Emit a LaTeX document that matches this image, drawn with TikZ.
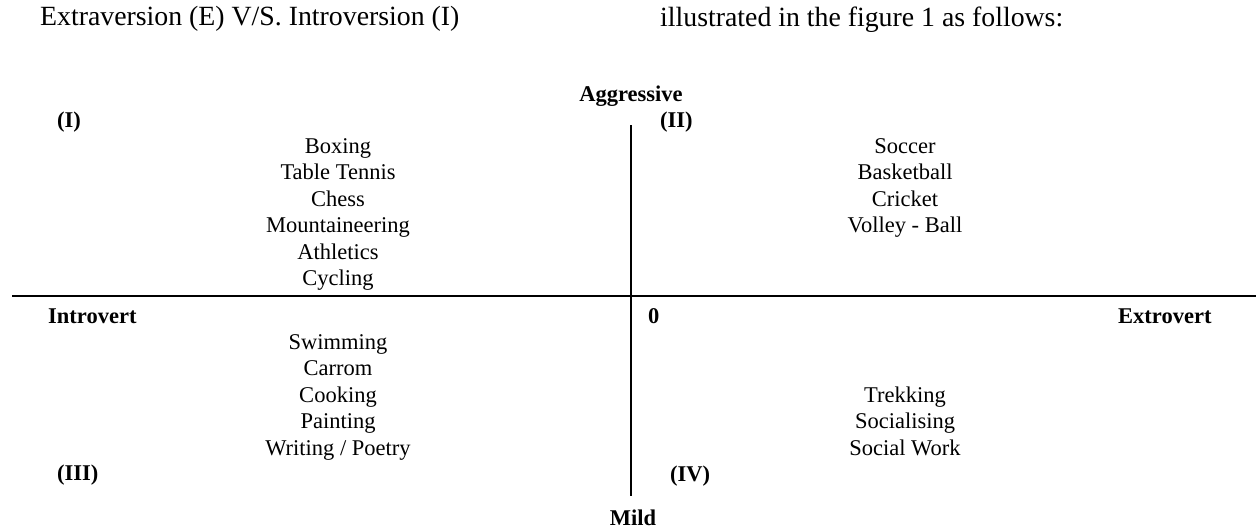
\documentclass[tikz,border=0pt]{standalone}
\usepackage{fontspec}
\setmainfont{Liberation Serif}
\begin{document}
\begin{tikzpicture}[x=1pt,y=-1pt,
  lbl/.style={inner sep=0pt,anchor=base,font=\fontsize{22.5}{27}\selectfont},
  lblw/.style={lbl,anchor=base west},
  bl/.style={inner sep=0pt,anchor=base,font=\fontsize{22.5}{27}\selectfont\bfseries},
  blw/.style={bl,anchor=base west},
  hdr/.style={inner sep=0pt,anchor=base west,font=\fontsize{27.8}{32}\selectfont},
  axis/.style={line width=1.8pt}]
\fill[white] (0,0) rectangle (1256,531);
\useasboundingbox (0,0) rectangle (1256,531);

% header text
\node[hdr] (h1) at (40,25) {Extraversion (E) V/S. Introversion (I)};
\node[hdr] (h2) at (660,26) {illustrated in the figure 1 as follows:};

% axes
\coordinate (hl) at (12,295.7);
\coordinate (hr) at (1256,295.7);
\coordinate (vt) at (631,125);
\coordinate (vb) at (631,496);
\draw[axis] (hl) -- (hr);
\draw[axis] (vt) -- (vb);

% axis labels
\node[bl] (aggr) at (631,101) {Aggressive};
\node[bl] (mild) at (633,525) {Mild};
\node[blw] (intro) at (48,323) {Introvert};
\node[blw] (extro) at (1118,323) {Extrovert};
\node[blw] (zero) at (648,323) {0};

% quadrant numbers
\node[blw] (q1) at (57,127) {(I)};
\node[blw] (q2) at (660,127) {(II)};
\node[blw] (q3) at (57,480) {(III)};
\node[blw] (q4) at (670,481) {(IV)};

% quadrant lists
\foreach \t [count=\i] in {Boxing,Table Tennis,Chess,Mountaineering,Athletics,Cycling}
  \node[lbl] (ul\i) at (338,{153+26.5*(\i-1)}) {\t};
\foreach \t [count=\i] in {Soccer,Basketball,Cricket,Volley - Ball}
  \node[lbl] (ur\i) at (905,{153+26.5*(\i-1)}) {\t};
\foreach \t [count=\i] in {Swimming,Carrom,Cooking,Painting,Writing / Poetry}
  \node[lbl] (ll\i) at (338,{349+26.5*(\i-1)}) {\t};
\foreach \t [count=\i] in {Trekking,Socialising,Social Work}
  \node[lbl] (lr\i) at (905,{402+26.5*(\i-1)}) {\t};
\end{tikzpicture}
\end{document}
